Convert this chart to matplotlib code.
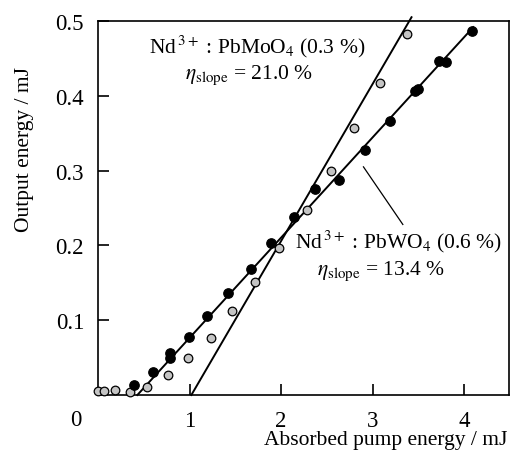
import matplotlib
matplotlib.use("Agg")
import matplotlib.pyplot as plt
import numpy as np

plt.rcParams['font.family'] = ['Liberation Serif', 'DejaVu Serif']
plt.rcParams['mathtext.fontset'] = 'stix'

# Nd3+:PbMoO4 (0.3 %) — grey circles
mo_pump = [0.00, 0.07, 0.19, 0.35, 0.54, 0.76, 0.98, 1.23, 1.46, 1.72,
           1.98, 2.28, 2.55, 2.80, 3.08, 3.38]
mo_out = [0.005, 0.005, 0.007, 0.004, 0.011, 0.027, 0.050, 0.076, 0.112, 0.151,
          0.196, 0.247, 0.299, 0.357, 0.417, 0.482]

# Nd3+:PbWO4 (0.6 %) — filled black circles
w_pump = [0.39, 0.60, 0.79, 0.79, 0.99, 1.19, 1.42, 1.67, 1.89, 2.14,
          2.37, 2.63, 2.92, 3.19, 3.46, 3.50, 3.73, 3.80, 4.09]
w_out = [0.014, 0.031, 0.056, 0.049, 0.078, 0.106, 0.136, 0.168, 0.203, 0.238,
         0.275, 0.287, 0.328, 0.366, 0.406, 0.409, 0.446, 0.445, 0.487]

# Linear fits: slope efficiency and threshold
mo_slope, mo_thr, mo_end = 0.210, 1.02, 3.425
w_slope, w_thr, w_end = 0.134, 0.43, 4.10

xticks = [1, 2, 3, 4]
yticks = [0.1, 0.2, 0.3, 0.4, 0.5]

FS = 15.5
TFS = 16.5

fig = plt.figure(figsize=(5.14, 4.56), dpi=100)
ax = fig.add_axes([98 / 514, 1 - 396 / 456, (509 - 98) / 514, (396 - 22) / 456])

xm = np.array([mo_thr, mo_end])
ax.plot(xm, mo_slope * (xm - mo_thr), color='black', lw=1.4, clip_on=False, zorder=2)
xw = np.array([w_thr, w_end])
ax.plot(xw, w_slope * (xw - w_thr), color='black', lw=1.4, clip_on=False, zorder=2)

ax.plot(mo_pump, mo_out, 'o', ms=6.2, mfc='#c4c4c4', mec='black', mew=0.9,
        clip_on=False, zorder=3)
ax.plot(w_pump, w_out, 'o', ms=6.8, mfc='black', mec='black', mew=0.9,
        clip_on=False, zorder=3)

ax.set_xlim(0, 4.49)
ax.set_ylim(0, 0.5)
ax.set_xticks(xticks)
ax.set_yticks(yticks)
ax.set_yticklabels(['0.1', '0.2', '0.3', '0.4', '0.5'])
ax.tick_params(direction='in', length=8, width=1.2, labelsize=TFS)
ax.tick_params(axis='y', pad=10)
ax.tick_params(axis='x', pad=11)
for s in ax.spines.values():
    s.set_linewidth(1.2)

ax.annotate('0', xy=(0, 0), xycoords='data', xytext=(-16, -17.5),
            textcoords='offset points', ha='center', va='center', fontsize=TFS)

ax.text(1.74, 0.467, r'Nd$^{\,3+}$ : PbMoO$_4$ (0.3 %)', ha='center', va='center', fontsize=FS)
ax.text(1.65, 0.429, r'$\eta_{\mathrm{slope}}$ = 21.0 %', ha='center', va='center', fontsize=FS)
ax.text(3.28, 0.206, r'Nd$^{\,3+}$ : PbWO$_4$ (0.6 %)', ha='center', va='center', fontsize=FS)
ax.text(3.09, 0.167, r'$\eta_{\mathrm{slope}}$ = 13.4 %', ha='center', va='center', fontsize=FS)

# leader line to the PbWO4 label
ax.plot([2.90, 3.33], [0.305, 0.228], color='black', lw=0.9)

fig.text(507 / 514, 1 - 441 / 456, 'Absorbed pump energy / mJ', ha='right', va='center', fontsize=FS)
fig.text(25 / 514, 1 - 150 / 456, 'Output energy / mJ', ha='center', va='center',
         rotation=90, fontsize=FS)

fig.savefig('out.png', dpi=100)
